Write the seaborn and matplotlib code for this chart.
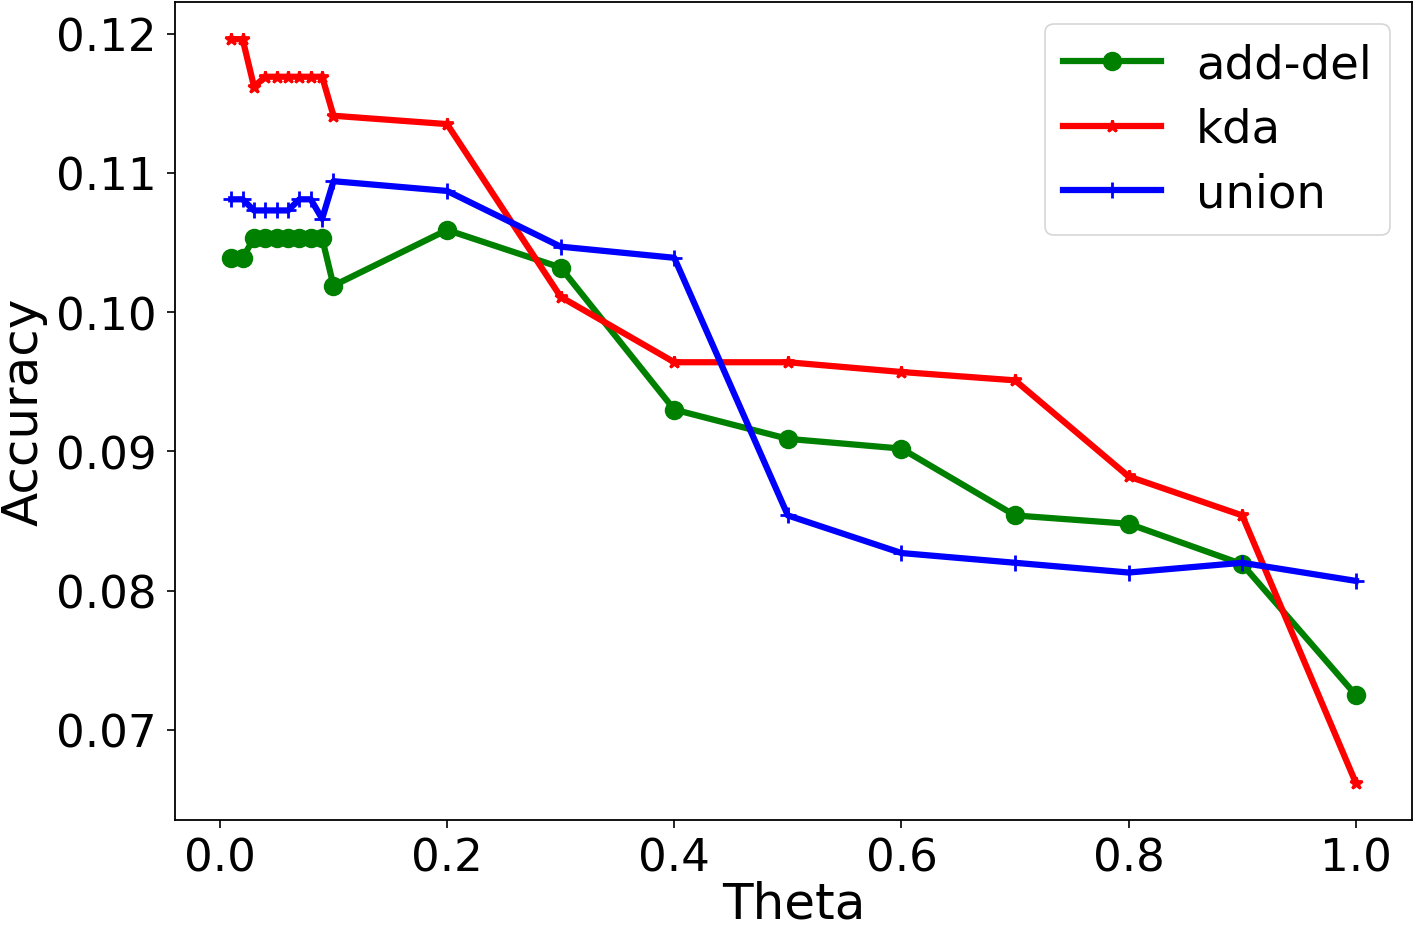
import matplotlib
matplotlib.use("Agg")
import matplotlib.pyplot as plt
import seaborn as sns
import pandas as pd

theta = [0.01, 0.02, 0.03, 0.04, 0.05, 0.06, 0.07, 0.08, 0.09,
         0.1, 0.2, 0.3, 0.4, 0.5, 0.6, 0.7, 0.8, 0.9, 1.0]

add_del = [0.1039, 0.1039, 0.1053, 0.1053, 0.1053, 0.1053, 0.1053, 0.1053, 0.1053,
           0.1019, 0.1059, 0.1032, 0.0930, 0.0909, 0.0902, 0.0854, 0.0848, 0.0819, 0.0725]
kda = [0.1196, 0.1196, 0.1162, 0.1169, 0.1169, 0.1169, 0.1169, 0.1169, 0.1169,
       0.1141, 0.1135, 0.1011, 0.0964, 0.0964, 0.0957, 0.0951, 0.0882, 0.0854, 0.0662]
union = [0.1081, 0.1081, 0.1073, 0.1073, 0.1073, 0.1073, 0.1081, 0.1081, 0.1067,
         0.1094, 0.1087, 0.1047, 0.1039, 0.0854, 0.0827, 0.0820, 0.0813, 0.0820, 0.0807]

series_names = ["add-del", "kda", "union"]
series_values = [add_del, kda, union]
colors = ["green", "red", "blue"]
markers = ["o", "*", "+"]
msizes = [12, 9, 12]

fig = plt.figure(figsize=(14.15, 9.28), dpi=100)
ax = fig.add_axes([0.1237, 0.1153, 0.8742, 0.8815])

for name, vals, c, m, ms in zip(series_names, series_values, colors, markers, msizes):
    df = pd.DataFrame({"Theta": theta, "Accuracy": vals})
    sns.lineplot(data=df, x="Theta", y="Accuracy", ax=ax, color=c, marker=m,
                 markersize=ms, markeredgewidth=2, markeredgecolor=c,
                 linewidth=4.5, label=name)

ax.set_xticks([0.0, 0.2, 0.4, 0.6, 0.8, 1.0])
ax.set_yticks([0.07, 0.08, 0.09, 0.10, 0.11, 0.12])
ax.tick_params(labelsize=32.5, length=6, width=1.2)
ax.tick_params(axis="y", pad=7)
ax.tick_params(axis="x", pad=6)
ax.set_xlabel("Theta", fontsize=36, labelpad=0)
ax.set_ylabel("Accuracy", fontsize=36, labelpad=6)
for s in ax.spines.values():
    s.set_linewidth(1.3)

leg = ax.legend(fontsize=33.5, loc="upper right", handlelength=2.1,
                borderaxespad=0.47, labelspacing=0.42, handletextpad=0.75)
leg.get_frame().set_linewidth(1.2)

fig.savefig("out.png", dpi=100)
